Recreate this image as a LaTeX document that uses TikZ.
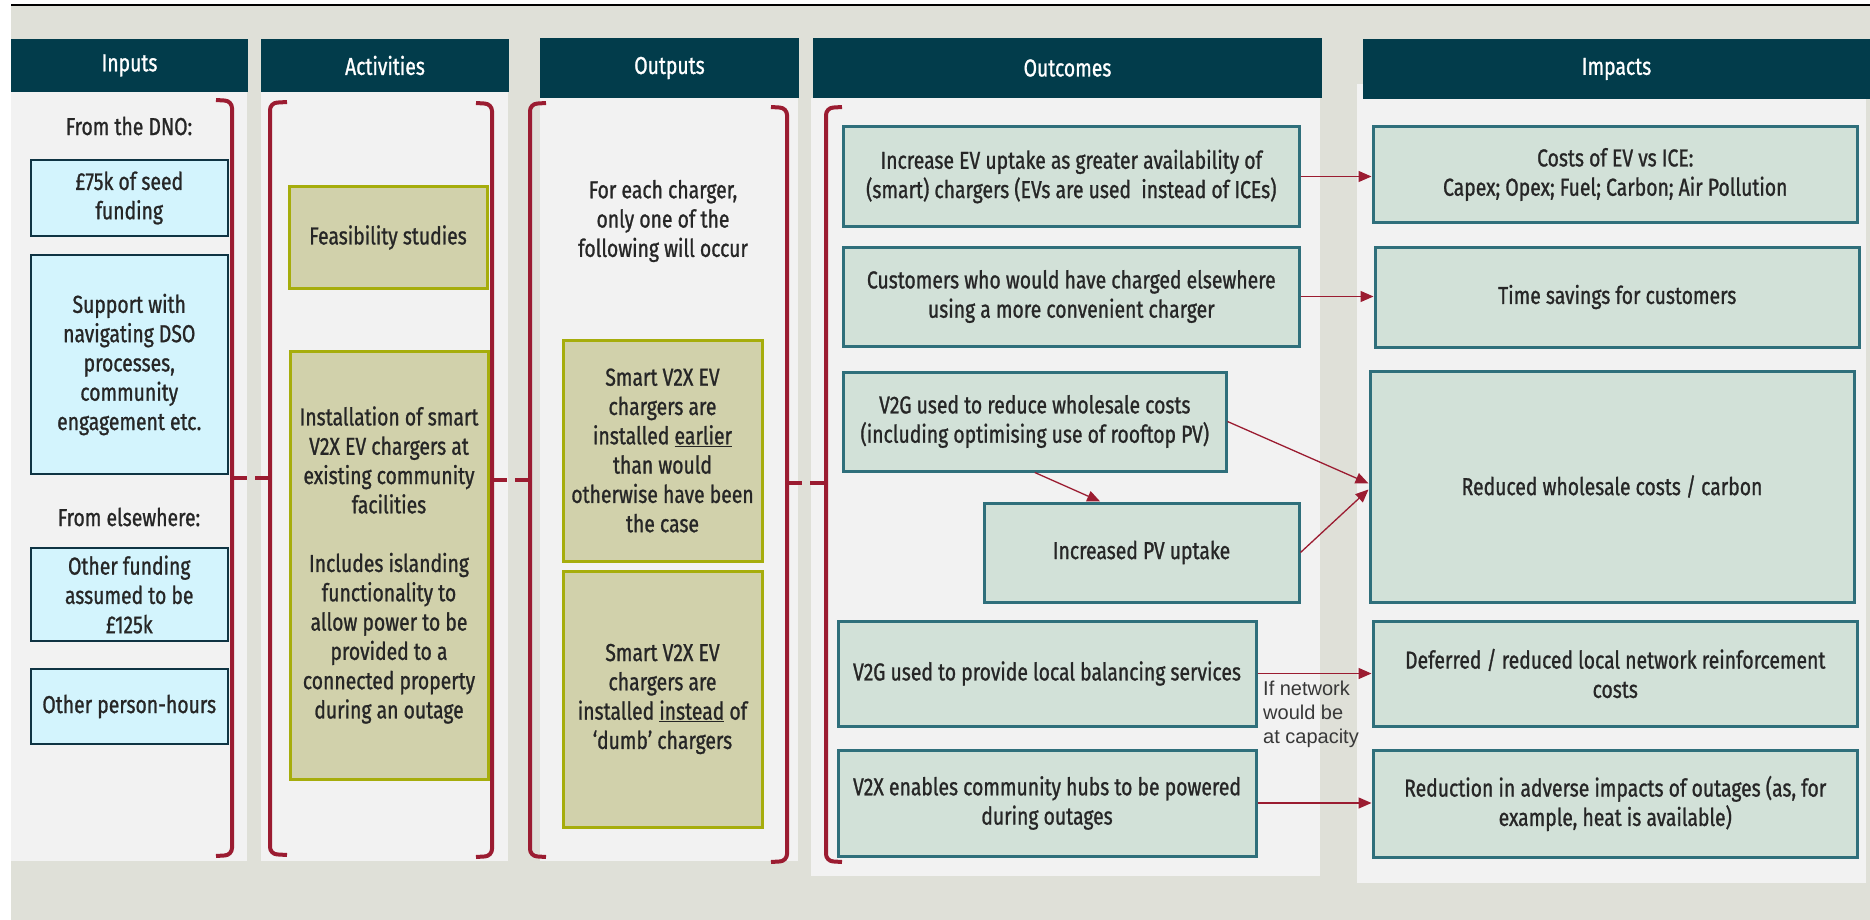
\documentclass[tikz,border=0pt]{standalone}
\usepackage{fontspec}
\setmainfont{Fira Sans}[FakeStretch=0.79, FakeBold=1.0]
\newfontfamily\notefont{Liberation Sans}
\usetikzlibrary{arrows.meta,calc}

\definecolor{bggrey}{HTML}{DFE0D8}
\definecolor{panelc}{HTML}{F2F2F2}
\definecolor{hdrc}{HTML}{023C4B}
\definecolor{inpfill}{HTML}{D3F4FD}
\definecolor{inpdraw}{HTML}{0F3443}
\definecolor{khfill}{HTML}{D1D1AB}
\definecolor{khdraw}{HTML}{A6AD0C}
\definecolor{tlfill}{HTML}{D2E1D8}
\definecolor{tldraw}{HTML}{2F6F7B}
\definecolor{bred}{HTML}{9B1C31}
\definecolor{txtc}{HTML}{262626}
\definecolor{notec}{HTML}{383838}

\newcommand\tfont{\fontsize{24.5}{29.3}\selectfont}
% box node: name, style, x1, y1, x2, y2, text
\newcommand\lfbox[7]{\node[#2, minimum width={(#5)-(#3)}, minimum height={(#6)-(#4)}] (#1) at ({((#3)+(#5))/2},{((#4)+(#6))/2}) {#7};}

\begin{document}
\begin{tikzpicture}[x=1pt,y=-1pt,
  every node/.style={font=\tfont, text=txtc, inner sep=0pt, align=center},
  hdrbox/.style={fill=hdrc, text=white},
  inbox/.style={fill=inpfill, draw=inpdraw, line width=2},
  khbox/.style={fill=khfill, draw=khdraw, line width=3},
  tlbox/.style={fill=tlfill, draw=tldraw, line width=3},
  bracepath/.style={draw=bred, line width=4, rounded corners=7pt},
  bracelink/.style={draw=bred, line width=4, dash pattern=on 15pt off 8pt},
  arr/.style={draw=bred, line width=1.3, -{Triangle[length=13pt,width=11pt]}}]

\useasboundingbox (0,0) rectangle (1870,920);

% backdrop and top rule
\fill[bggrey] (11,5) rectangle (1870,920);
\draw[black, line width=2] (11,5) -- (1870,5);

% column panels
\fill[panelc] (11,92) rectangle (247,861);
\fill[panelc] (261,92) rectangle (508,861);
\fill[panelc] (540,98) rectangle (798,861);
\fill[panelc] (811,98) rectangle (1320,876);
\fill[panelc] (1357,84) rectangle (1866,883);

% column headers
\lfbox{hin}{hdrbox}{11}{39}{248}{92}{Inputs}
\lfbox{hact}{hdrbox}{261}{39}{509}{92}{Activities}
\lfbox{hout}{hdrbox}{540}{38}{799}{98}{Outputs}
\lfbox{hoc}{hdrbox}{813}{38}{1322}{98}{Outcomes}
\lfbox{himp}{hdrbox}{1363}{39}{1870}{99}{Impacts}

% inputs
\node (dno) at (129,126) {From the DNO:};
\lfbox{in1}{inbox}{31}{160}{227.5}{236}{\pounds75k of seed\\funding}
\lfbox{in2}{inbox}{31}{255}{227.5}{474}{Support with\\navigating DSO\\processes,\\community\\engagement etc.}
\node (else) at (129,517) {From elsewhere:};
\lfbox{in3}{inbox}{31}{548}{227.5}{641}{Other funding\\assumed to be\\\pounds125k}
\lfbox{in4}{inbox}{31}{669}{227.5}{744}{Other person-hours}

% activities
\lfbox{ac1}{khbox}{289}{187}{487}{288}{Feasibility studies}
\lfbox{ac2}{khbox}{290}{351}{488}{779}{Installation of smart\\V2X EV chargers at\\existing community\\facilities\\[29.3pt]Includes islanding\\functionality to\\allow power to be\\provided to a\\connected property\\during an outage}

% outputs
\node (each) at (663,221) {For each charger,\\only one of the\\following will occur};
\lfbox{op1}{khbox}{563}{340}{762}{561}{Smart V2X EV\\chargers are\\installed \underline{earlier}\\than would\\otherwise have been\\the case}
\lfbox{op2}{khbox}{563}{571}{762}{827}{Smart V2X EV\\chargers are\\installed \underline{instead} of\\‘dumb’ chargers}

% outcomes
\lfbox{oc1}{tlbox}{843.6}{127}{1299}{226}{Increase EV uptake as greater availability of\\(smart) chargers (EVs are used~ instead of ICEs)}
\lfbox{oc2}{tlbox}{843.6}{247}{1299}{346}{Customers who would have charged elsewhere\\using a more convenient charger}
\lfbox{oc3}{tlbox}{843.6}{372}{1226}{471}{V2G used to reduce wholesale costs\\(including optimising use of rooftop PV)}
\lfbox{oc4}{tlbox}{984}{503}{1299}{602}{Increased PV uptake}
\lfbox{oc5}{tlbox}{838}{621}{1256}{726}{V2G used to provide local balancing services}
\lfbox{oc6}{tlbox}{838}{750}{1256}{856}{V2X enables community hubs to be powered\\during outages}

% impacts
\lfbox{im1}{tlbox}{1373}{127}{1857.5}{222}{Costs of EV vs ICE:\\Capex; Opex; Fuel; Carbon; Air Pollution}
\lfbox{im2}{tlbox}{1375}{247}{1859.5}{347}{Time savings for customers}
\lfbox{im3}{tlbox}{1370}{371}{1854}{602}{Reduced wholesale costs / carbon}
\lfbox{im4}{tlbox}{1373}{621}{1857.5}{726}{Deferred / reduced local network reinforcement\\costs}
\lfbox{im5}{tlbox}{1373}{750}{1857.5}{857}{Reduction in adverse impacts of outages (as, for\\example, heat is available)}

% brackets grouping each column, linked at their tips
\draw[bracepath] (216,100) -- (232,101) -- (232,855) -- (216,856);
\draw[bracepath] (287,102) -- (270,103) -- (270,854) -- (287,855);
\draw[bracepath] (476,103) -- (492,104) -- (492,856) -- (476,857);
\draw[bracepath] (546,103) -- (530,104) -- (530,856) -- (546,857);
\draw[bracepath] (771,107) -- (787,108) -- (787,861) -- (771,862);
\draw[bracepath] (842,107) -- (826,108) -- (826,861) -- (842,862);
\coordinate (tipin) at (232,478);
\coordinate (tipacl) at (270,478);
\coordinate (tipacr) at (492,480);
\coordinate (tipopl) at (530,480);
\coordinate (tipopr) at (787,483);
\coordinate (tipocl) at (826,483);
\draw[bracelink] (tipin) -- (tipacl);
\draw[bracelink] (tipacr) -- (tipopl);
\draw[bracelink] (tipopr) -- (tipocl);

% causal links
\draw[arr] (oc1.east) -- (oc1.east -| im1.west);
\draw[arr] (oc2.east) -- (oc2.east -| im2.west);
\draw[arr] (oc3.east) -- ($(im3.west)+(0,-3)$);
\draw[arr] (oc4.east) -- ($(im3.west)+(0,3)$);
\draw[arr] (oc3.south) -- ($(oc4.north west)!0.37!(oc4.north east)$);
\draw[arr] (oc5.east) -- (oc5.east -| im4.west);
\draw[arr] (oc6.east) -- (oc6.east -| im5.west);

\node[font=\notefont\fontsize{20}{24}\selectfont, text=notec, align=left, anchor=north west] (cap) at (1263,681) {If network\\would be\\at capacity};

\end{tikzpicture}
\end{document}
